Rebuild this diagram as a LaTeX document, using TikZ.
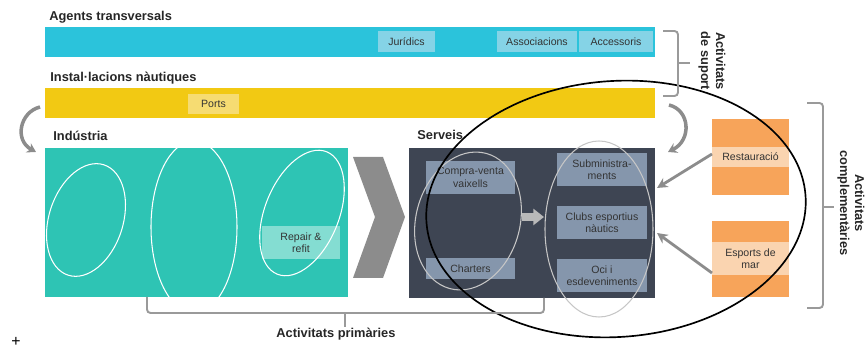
\documentclass[tikz,border=0pt]{standalone}
\usepackage{fontspec}
\setmainfont{Liberation Sans}
\usetikzlibrary{arrows.meta}

\definecolor{cyanbar}{HTML}{2BC3DB}
\definecolor{cyantag}{HTML}{85D3E6}
\definecolor{yellowbar}{HTML}{F2C913}
\definecolor{yellowtag}{HTML}{F6DC72}
\definecolor{tealbox}{HTML}{2EC4B4}
\definecolor{tealtag}{HTML}{84DDD2}
\definecolor{darkbox}{HTML}{3E4553}
\definecolor{slatetag}{HTML}{8596AC}
\definecolor{orangebox}{HTML}{F7A45A}
\definecolor{orangetag}{HTML}{FAD4B0}
\definecolor{arrowgray}{HTML}{8C8C8C}
\definecolor{bracegray}{HTML}{9A9A9A}

\tikzset{
  head/.style={font=\bfseries\fontsize{7.3}{8.5}\selectfont, text=black!85, inner sep=0pt},
  tag/.style={font=\fontsize{6}{7}\selectfont, align=center, text=black!80, inner sep=0pt},
  ring/.style={white, line width=0.6pt},
  paler/.style={gray!45, line width=0.6pt},
  brace/.style={bracegray, line width=1.1pt, rounded corners=2pt},
  turn/.style={arrowgray, line width=2pt, -{Stealth[length=5pt,width=6pt]}},
  feed/.style={arrowgray, line width=1.6pt, -{Stealth[length=6pt,width=6pt]}}
}

\begin{document}
\begin{tikzpicture}[x=0.02cm, y=-0.02cm]
    \useasboundingbox (0,0) rectangle (867,350);

    % support bars
    \node[head, anchor=base west] (agents) at (49,21) {Agents transversals};
    \fill[cyanbar] (45,27) rectangle (655,57);
    \fill[cyantag] (378,31) rectangle node[tag] (jur) {Jurídics} (435,52);
    \fill[cyantag] (497,31) rectangle node[tag] (assoc) {Associacions} (577,52);
    \fill[cyantag] (579,31) rectangle node[tag] (acc) {Accessoris} (653,52);

    \node[head, anchor=base west] (install) at (50,82) {Instal·lacions nàutiques};
    \fill[yellowbar] (45,88) rectangle (655,118);
    \fill[yellowtag] (188,94) rectangle node[tag] (ports) {Ports} (239,114);

    % turning arrows
    \coordinate (lt-a) at (40,107);
    \coordinate (lt-b) at (36,152);
    \coordinate (rt-a) at (669,105);
    \coordinate (rt-b) at (668,152);
    \draw[turn] (lt-a) .. controls (20,112) and (14,140) .. (lt-b);
    \draw[turn] (rt-a) .. controls (690,110) and (692,140) .. (rt-b);

    % industry
    \node[head, anchor=base west] (ind) at (53,141) {Indústria};
    \fill[tealbox] (45,148) rectangle (348,297);
    \fill[tealtag] (262,226) rectangle node[tag] (repair) {Repair \&\\refit} (340,259);
    \draw[ring, rotate around={-18:(86,220)}] (86,220) ellipse [x radius=37, y radius=58];
    \draw[ring] (194,227) ellipse [x radius=43, y radius=86];
    \draw[ring, rotate around={-22:(302,213)}] (302,213) ellipse [x radius=37, y radius=66];

    \fill[arrowgray] (353,157) -- (383,157) -- (405,217) -- (383,278) -- (353,278) -- (375,217) -- cycle;

    % services
    \node[head, anchor=base west] (serv) at (417,140) {Serveis};
    \fill[darkbox] (409,148) rectangle (655,298);
    \fill[slatetag] (426,161) rectangle node[tag] (compra) {Compra-venta\\vaixells} (515,194);
    \fill[slatetag] (426,258) rectangle node[tag] (charter) {Charters} (515,279);
    \fill[slatetag] (557,153) rectangle node[tag] (supl) {Subministra-\\ments} (647,186);
    \fill[slatetag] (557,206) rectangle node[tag] (clubs) {Clubs esportius\\nàutics} (647,239);
    \fill[slatetag] (557,259) rectangle node[tag] (oci) {Oci i\\esdeveniments} (647,292);
    \draw[paler, rotate around={-15:(468,221)}] (468,221) ellipse [x radius=52, y radius=70];
    \draw[paler] (599,229) ellipse [x radius=54, y radius=88];
    \coordinate (mid-a) at (522,217);
    \coordinate (mid-b) at (544,217);
    \draw[gray!55, line width=4pt, -{Triangle[length=6pt,width=9pt]}] (mid-a) -- (mid-b);

    % complementary
    \fill[orangebox] (712,119) rectangle (789,195);
    \fill[orangetag] (712,147) rectangle node[tag] (rest) {Restauració} (789,167);
    \fill[orangebox] (712,221) rectangle (789,297);
    \fill[orangetag] (712,242) rectangle node[tag] (sports) {Esports de\\mar} (789,275);
    \coordinate (rest-w) at (712,154);
    \coordinate (sports-w) at (712,273);
    \coordinate (supl-e) at (657,188);
    \coordinate (clubs-e) at (657,233);
    \draw[feed] (rest-w) -- (supl-e);
    \draw[feed] (sports-w) -- (clubs-e);

    \draw[line width=0.95pt, rotate around={4:(616,209)}] (616,209) ellipse [x radius=190, y radius=128];

    % brackets
    \draw[brace] (663,31) -- (678,31) -- (678,96) -- (663,96);
    \draw[brace] (678,63) -- (690,63);
    \node[head, rotate=-90, align=center] (suport) at (712,61) {Activitats\\de suport};
    \draw[brace] (807,103) -- (823,103) -- (823,308) -- (807,308);
    \draw[brace] (823,207) -- (834,207);
    \node[head, rotate=-90, align=center] (compl) at (851,203) {Activitats\\complementàries};
    \draw[brace] (147,297) -- (147,313) -- (544,313) -- (544,298);
    \draw[brace] (345,313) -- (345,327);
    \node[head, anchor=base] (prim) at (336,338) {Activitats primàries};

    \node[font=\fontsize{9}{9}\selectfont, inner sep=0pt] (plus) at (16,342) {+};
\end{tikzpicture}
\end{document}
